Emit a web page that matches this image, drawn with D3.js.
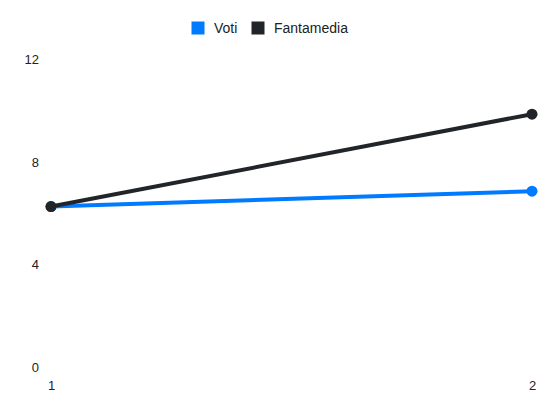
<!DOCTYPE html>
<html>
<head>
<meta charset="utf-8">
<script src="https://cdn.jsdelivr.net/npm/d3@7"></script>
<style>
  body { margin: 0; background: #fff; }
  svg { display: block; font-family: "Liberation Sans", Arial, sans-serif; }
</style>
</head>
<body>
<div id="chart"></div>
<script>
// chart data
const giornate = [1, 2];
const voti = [6.25, 6.85];
const fantamedia = [6.25, 9.85];
const yTicks = [0, 4, 8, 12];

const series = [
    { name: 'Voti', color: '#007bff', values: voti },
    { name: 'Fantamedia', color: '#212529', values: fantamedia }
];

const width = 550;
const height = 412;
const margin = { top: 59, right: 18, bottom: 45, left: 51 };

const svg = d3.select('#chart').append('svg')
    .attr('width', width)
    .attr('height', height);

const x = d3.scalePoint()
    .domain(giornate)
    .range([margin.left, width - margin.right]);

const y = d3.scaleLinear()
    .domain([0, 12])
    .range([height - margin.bottom, margin.top]);

// y axis labels, no lines
const yAxis = svg.append('g')
    .attr('transform', `translate(${margin.left - 12},0)`)
    .call(d3.axisLeft(y).tickValues(yTicks).tickSize(0).tickPadding(0));
yAxis.select('.domain').remove();
yAxis.selectAll('text')
    .style('font-size', '13px')
    .style('fill', '#222')
    .attr('dy', '0.35em');

// x axis labels
const xAxis = svg.append('g')
    .attr('transform', `translate(0,${height - margin.bottom + 14})`)
    .call(d3.axisBottom(x).tickSize(0).tickPadding(0));
xAxis.select('.domain').remove();
xAxis.selectAll('text')
    .style('font-size', '13px')
    .style('fill', '#222')
    .attr('dy', '0.71em');

const line = d3.line()
    .x((d, i) => x(giornate[i]))
    .y(d => y(d));

// draw lines and points
series.forEach(s => {
    svg.append('path')
        .datum(s.values)
        .attr('fill', 'none')
        .attr('stroke', s.color)
        .attr('stroke-width', 4)
        .attr('d', line);

    svg.selectAll(null)
        .data(s.values)
        .enter().append('circle')
        .attr('cx', (d, i) => x(giornate[i]))
        .attr('cy', d => y(d))
        .attr('r', 5.5)
        .attr('fill', s.color);
});

// legend
const legend = svg.append('g').attr('transform', 'translate(191,21)');
const legendPos = [0, 60];
series.forEach((s, i) => {
    const item = legend.append('g').attr('transform', `translate(${legendPos[i]},0)`);
    item.append('rect')
        .attr('width', 14)
        .attr('height', 14)
        .attr('fill', s.color)
        .attr('stroke', '#fff')
        .attr('stroke-width', 1);
    item.append('text')
        .attr('x', 23)
        .attr('y', 7)
        .attr('dy', '0.35em')
        .style('font-size', '14px')
        .style('fill', '#222')
        .text(s.name);
});
</script>
</body>
</html>
